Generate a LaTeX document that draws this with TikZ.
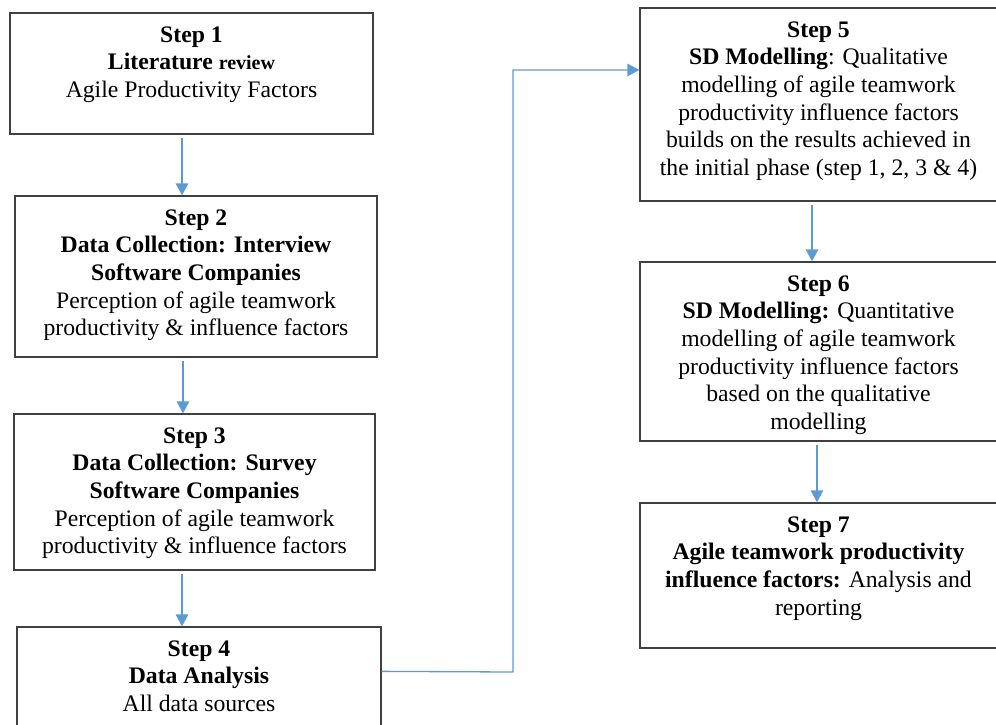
\documentclass[tikz,border=0pt]{standalone}
\usepackage{fontspec}
\setmainfont{Liberation Serif}
\usetikzlibrary{arrows.meta,calc}
\definecolor{flowblue}{HTML}{5B9BD5}
\definecolor{boxline}{HTML}{404040}
\tikzset{
  stepbox/.style={draw=boxline, line width=1.3pt, rectangle, inner sep=0pt},
  steptext/.style={anchor=north, align=center, inner sep=0pt,
    font=\fontsize{23.7}{27.6}\selectfont},
  flow/.style={draw=flowblue, line width=1.3pt,
    -{Triangle[width=12.5pt,length=12pt]}},
  link/.style={draw=flowblue, line width=1.3pt}
}
\newcommand\smallbold[1]{{\fontsize{20}{27.6}\selectfont\bfseries #1}}
\begin{document}
\begin{tikzpicture}[x=1pt,y=-1pt]
  \useasboundingbox (0,0) rectangle (996,724);
  \clip (0,0) rectangle (996,724);

  % left column
  \node[stepbox, minimum width=363pt, minimum height=121pt] (s1) at (191.5,73.5) {};
  \node[stepbox, minimum width=362pt, minimum height=161pt] (s2) at (196,276.5) {};
  \node[stepbox, minimum width=361pt, minimum height=156pt] (s3) at (194.5,492) {};
  \node[stepbox, minimum width=364pt, minimum height=133pt] (s4) at (199,693.5) {};

  % right column
  \node[stepbox, minimum width=357pt, minimum height=193pt] (s5) at (818.5,104.5) {};
  \node[stepbox, minimum width=357pt, minimum height=179pt] (s6) at (818.5,351.5) {};
  \node[stepbox, minimum width=357pt, minimum height=145pt] (s7) at (818.5,575.5) {};

  % box texts
  \node[steptext] (t1) at ([yshift=-14pt]s1.north) {\textbf{Step 1}\\
    \textbf{Literature} \smallbold{review}\\
    Agile Productivity Factors};
  \node[steptext] (t2) at ([yshift=-14pt]s2.north) {\textbf{Step 2}\\
    \textbf{Data Collection: Interview}\\
    \textbf{Software Companies}\\
    Perception of agile teamwork\\
    productivity \& influence factors};
  \node[steptext] (t3) at ([yshift=-14pt]s3.north) {\textbf{Step 3}\\
    \textbf{Data Collection: Survey}\\
    \textbf{Software Companies}\\
    Perception of agile teamwork\\
    productivity \& influence factors};
  \node[steptext] (t4) at ([yshift=-14pt]s4.north) {\textbf{Step 4}\\
    \textbf{Data Analysis}\\
    All data sources};
  \node[steptext] (t5) at ([yshift=-14pt]s5.north) {\textbf{Step 5}\\
    \textbf{SD Modelling}: Qualitative\\
    modelling of agile teamwork\\
    productivity influence factors\\
    builds on the results achieved in\\
    the initial phase (step 1, 2, 3 \& 4)};
  \node[steptext] (t6) at ([yshift=-14pt]s6.north) {\textbf{Step 6}\\
    \textbf{SD Modelling:} Quantitative\\
    modelling of agile teamwork\\
    productivity influence factors\\
    based on the qualitative\\
    modelling};
  \node[steptext] (t7) at ([yshift=-14pt]s7.north) {\textbf{Step 7}\\
    \textbf{Agile teamwork productivity}\\
    \textbf{influence factors:} Analysis and\\
    reporting};

  % connectors
  \draw[flow] ([xshift=-9.5pt,yshift=-3pt]s1.south) -- ([xshift=-14pt]s2.north);
  \draw[flow] ([xshift=-13pt,yshift=-3pt]s2.south) -- ([xshift=-11.5pt]s3.north);
  \draw[flow] ([xshift=-12.5pt,yshift=-3pt]s3.south) -- ([xshift=-17pt]s4.north);
  \coordinate (bend) at (513,672);
  \draw[flow] ([yshift=-45pt]s4.north east) -- (bend) |- ([yshift=34.5pt]s5.west);
  \draw[flow] ([xshift=-6.5pt,yshift=-3pt]s5.south) -- ([xshift=-6.5pt]s6.north);
  \draw[flow] ([xshift=-1.5pt,yshift=-3pt]s6.south) -- ([xshift=-1.5pt]s7.north);
\end{tikzpicture}
\end{document}
